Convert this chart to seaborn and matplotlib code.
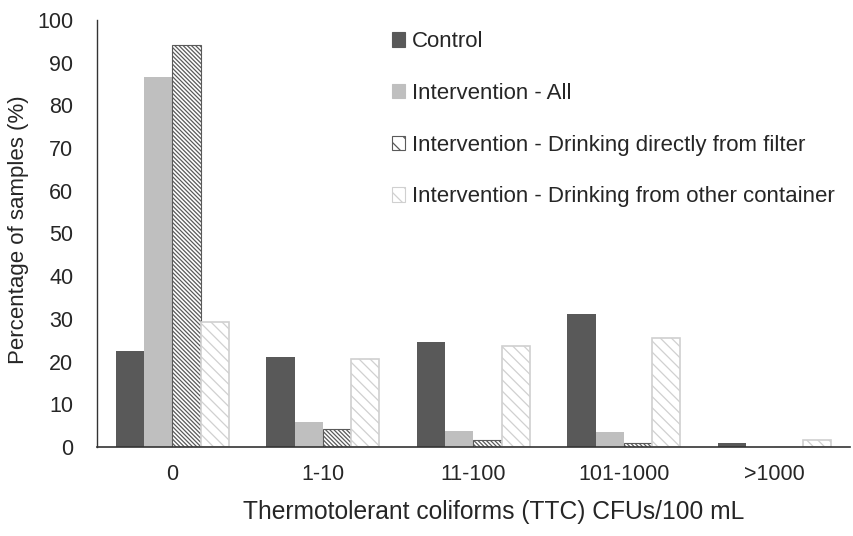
import matplotlib
matplotlib.use("Agg")
import matplotlib.pyplot as plt
import pandas as pd
import seaborn as sns

categories = ["0", "1-10", "11-100", "101-1000", ">1000"]
groups = ["Control", "Intervention - All",
          "Intervention - Drinking directly from filter",
          "Intervention - Drinking from other container"]
control = [22.5, 21.1, 24.6, 31.1, 1.0]
interv_all = [86.7, 5.9, 3.8, 3.5, 0.0]
interv_filter = [94.1, 4.2, 1.6, 0.9, 0.0]
interv_other = [29.3, 20.6, 23.7, 25.5, 1.6]

rows = []
for g, vals in zip(groups, [control, interv_all, interv_filter, interv_other]):
    for c, v in zip(categories, vals):
        rows.append({"cat": c, "group": g, "pct": v})
df = pd.DataFrame(rows)

sns.set_style("white")
plt.rcParams["font.family"] = ["Liberation Sans", "DejaVu Sans"]
plt.rcParams["hatch.linewidth"] = 0.9

fig, ax = plt.subplots(figsize=(8.54, 5.36), dpi=100)
fig.subplots_adjust(left=0.1136, right=0.995, top=0.963, bottom=0.166)

palette = ["#595959", "#bfbfbf", "#ffffff", "#ffffff"]
sns.barplot(data=df, x="cat", y="pct", hue="group", palette=palette,
            width=0.75, ax=ax, saturation=1, legend=True)

styles = {
    0: dict(hatch=None, edge="#595959", lw=0),
    1: dict(hatch=None, edge="#bfbfbf", lw=0),
    2: dict(hatch="\\\\\\\\\\\\\\\\", edge="#5a5a5a", lw=0.8),
    3: dict(hatch="\\\\\\", edge="#d0d0d0", lw=1.2),
}
for i, cont in enumerate(ax.containers):
    st = styles[i]
    for p in cont:
        if st["hatch"]:
            p.set_hatch(st["hatch"])
        p.set_edgecolor(st["edge"])
        p.set_linewidth(st["lw"])

ax.set_ylim(0, 100)
ax.set_yticks(range(0, 101, 10))
ax.set_xlim(-0.5, 4.5)
ax.set_xlabel("Thermotolerant coliforms (TTC) CFUs/100 mL", fontsize=17.7)
ax.xaxis.set_label_coords(0.527, -0.125)
ax.set_ylabel("Percentage of samples (%)", fontsize=16)
ax.yaxis.set_label_coords(-0.09, 0.508)
ax.tick_params(axis="both", labelsize=15.5, length=0)
ax.tick_params(axis="x", pad=12)
ax.tick_params(axis="y", pad=17)
for s in ["top", "right"]:
    ax.spines[s].set_visible(False)
ax.spines["bottom"].set_color("#333333")
ax.spines["bottom"].set_linewidth(1.2)
ax.spines["left"].set_color("#333333")
ax.spines["left"].set_linewidth(1.0)

handles, labels = ax.get_legend_handles_labels()
for i, h in enumerate(handles):
    st = styles[i]
    if st["hatch"]:
        h.set_hatch("\\\\")
    h.set_edgecolor(st["edge"] if i > 1 else palette[i])
    h.set_linewidth(0.8)
ax.legend(handles, labels, loc="upper left", bbox_to_anchor=(0.365, 1.02),
          frameon=False, fontsize=16, handlelength=0.6, handleheight=0.6,
          handletextpad=0.3, labelspacing=1.38)

fig.savefig("out.png", dpi=100)
